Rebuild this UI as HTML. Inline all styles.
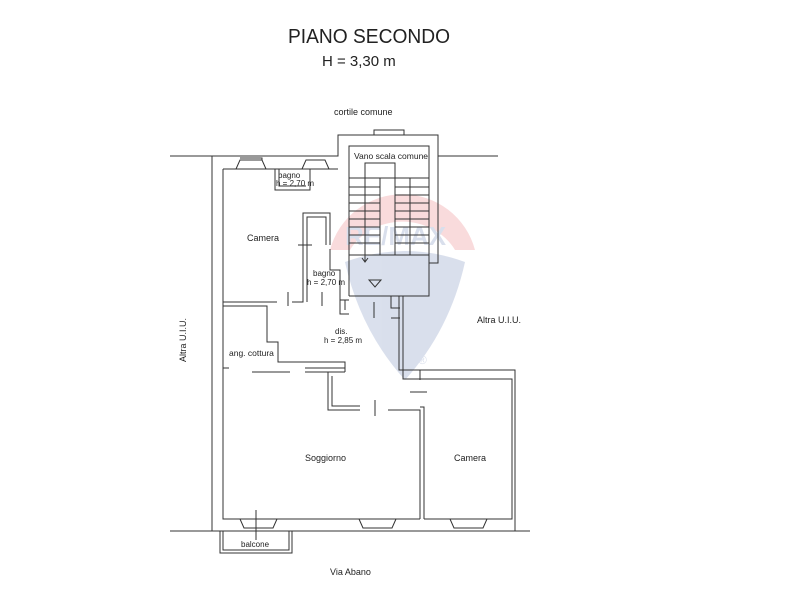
<!DOCTYPE html>
<html><head><meta charset="utf-8"><style>
html,body{margin:0;padding:0;background:#fff;width:800px;height:600px;overflow:hidden}
svg{display:block}
text{font-family:"Liberation Sans",sans-serif;fill:#222}
</style></head><body>
<svg width="800" height="600" viewBox="0 0 800 600">
<g opacity="0.16">
<path d="M330,250 A75,75 0 0 1 475,250 L455,250 A60,55 0 0 0 350,250 Z" fill="#e0242e"/>
<path d="M345,262 Q405,240 465,262 Q450,330 405,380 Q360,330 345,262 Z" fill="#1a3d8f"/>
<text x="345" y="245" font-size="26" font-weight="bold" style="fill:#1a3d8f">RE/MAX</text>
<text x="418" y="364" font-size="12" style="fill:#1a3d8f">®</text>
</g>
<text x="288" y="43" font-size="20" textLength="162" lengthAdjust="spacingAndGlyphs">PIANO SECONDO</text>
<text x="322" y="66" font-size="15">H = 3,30 m</text>
<text x="334" y="115" font-size="9">cortile comune</text>
<text x="330" y="575" font-size="9">Via Abano</text>
<text x="477" y="323" font-size="9">Altra U.I.U.</text>
<text x="186" y="340" font-size="9" transform="rotate(-90 186 340)" text-anchor="middle">Altra U.I.U.</text>
<text x="354" y="159" font-size="8.5">Vano scala comune</text>
<text x="278" y="178" font-size="8">bagno</text>
<text x="276" y="186" font-size="8">h = 2,70 m</text>
<text x="247" y="241" font-size="9">Camera</text>
<text x="313" y="276" font-size="8">bagno</text>
<text x="307" y="285" font-size="8">h = 2,70 m</text>
<text x="335" y="334" font-size="8">dis.</text>
<text x="324" y="343" font-size="8">h = 2,85 m</text>
<text x="229" y="356" font-size="8.5">ang. cottura</text>
<text x="305" y="461" font-size="9">Soggiorno</text>
<text x="454" y="461" font-size="9">Camera</text>
<text x="241" y="547" font-size="8">balcone</text>
<g fill="none" stroke="#333" stroke-width="1">
<path d="M170,156H338V135H438V156H498"/>
<path d="M349,296V146H429V296H349"/>
<path d="M438,156V263H429"/>
<path d="M212,156V531 M170,531H530"/>
<path d="M223,169V519H420 M424,519H512V379H403V296 M399,296V370H515V531"/>
<path d="M223,169H338 M275,169V190H310V169 M279,169V186H306"/>
<path d="M223,302H277 M223,306H267V342H278V362H345V372 M292,302H303V213H330V245 M307,302V217H326V245"/>
<path d="M330,249V270H340V300H349 M340,300V314H349 M345,300V310"/>
<path d="M223,368H229 M252,372H290 M305,372H345 M305,368H345"/>
<path d="M328,372V410H360 M388,410H420V519 M424,519V407H420 M332,376V406H360"/>
<path d="M391,296V308H400 M391,318H400"/>
<path d="M420,370V380 M410,392H427 M298,245H312"/>
<path d="M288,292V306 M322,292V306 M375,400V416 M374,302V318"/>
<path d="M365,255V163H395V255 M380,178V255 M410,178V255 M349,178H429 M349,255H429"/>
<path d="M349,187H365 M349,195H365 M349,203H365 M349,211H365 M349,219H365 M349,227H365 M349,235H365 M349,243H365"/>
<path d="M395,187H429 M395,195H429 M395,203H429 M395,211H429 M395,219H429 M395,227H429 M395,235H429 M395,243H429"/>
<path d="M365,187H380 M365,195H380 M365,203H380 M365,211H380 M365,219H380 M365,227H380 M365,235H380 M365,243H380"/>
<path d="M365,255V262 M362,258L365,262L368,258 M369,280H381L375,287Z"/>
<path d="M236,169L240,160H262L266,169 M240,160H262V158H240 M302,169L306,160H325L329,169 M306,160H325"/>
<path d="M374,135V130H404V135 M378,130H400"/>
<path d="M240,519L244,528H273L277,519 M244,528H273 M359,519L363,528H392L396,519 M363,528H392 M450,519L454,528H483L487,519 M454,528H483"/>
<path d="M220,531V553H292V531 M223,531V550H289V531 M256,510V540"/>
</g>
</svg>
</body></html>
